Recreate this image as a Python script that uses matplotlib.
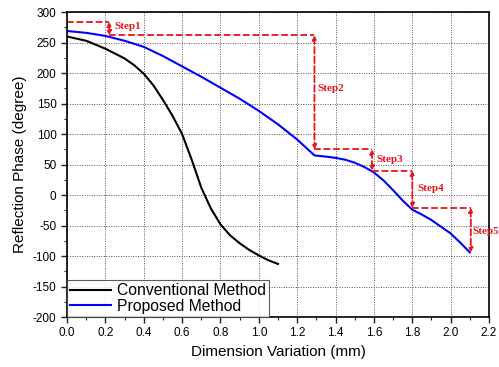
import numpy as np
import matplotlib.pyplot as plt
from matplotlib.ticker import MultipleLocator

# data
conv_x = [0.0, 0.1, 0.2, 0.25, 0.3, 0.35, 0.4, 0.45, 0.5, 0.55, 0.6, 0.65, 0.7, 0.75, 0.8, 0.85, 0.9, 0.95, 1.0, 1.05, 1.1]
conv_y = [260, 253, 240, 232, 224, 213, 199, 180, 156, 130, 100, 58, 12, -22, -48, -66, -79, -90, -99, -107, -113]

prop_x = [0.0, 0.1, 0.2, 0.3, 0.4, 0.5, 0.6, 0.7, 0.8, 0.9, 1.0, 1.1, 1.2, 1.29,
          1.35, 1.4, 1.45, 1.5, 1.55, 1.6, 1.65, 1.7, 1.75, 1.8, 1.85, 1.9, 1.95, 2.0, 2.05, 2.1]
prop_y = [269, 266, 261, 253, 243, 228, 211, 194, 176, 158, 138, 116, 91, 65,
          63, 61, 58, 53, 46, 37, 24, 8, -9, -24, -32, -41, -52, -63, -78, -94]

# step annotations
step_names = ['Step1', 'Step2', 'Step3', 'Step4', 'Step5']
step_x = [0.22, 1.29, 1.59, 1.80, 2.105]
step_top = [284, 262, 75, 40, -21]
step_bot = [262, 75, 40, -21, -94]
step_lbl_x = [0.245, 1.305, 1.615, 1.825, 2.113]
step_lbl_y = [276, 175, 59, 10, -59]

plt.rcParams['font.family'] = ['Liberation Sans', 'DejaVu Sans']

fig = plt.figure(figsize=(4.99, 3.67), dpi=100)
ax = fig.add_axes([0.1343, 0.1362, 0.8457, 0.8308])

ax.grid(True, color='#555555', linestyle=(0, (1, 1.5)), linewidth=0.7)
ax.set_axisbelow(True)

ax.plot(conv_x, conv_y, color='black', linewidth=1.5, label='Conventional Method')
ax.plot(prop_x, prop_y, color='#0000ff', linewidth=1.5, label='Proposed Method')

red = '#e8141c'
# horizontal dashed lines
ax.plot([0, step_x[0]], [step_top[0], step_top[0]], color=red, linestyle='--', linewidth=1.3)
for i in range(len(step_x) - 1):
    ax.plot([step_x[i], step_x[i + 1]], [step_bot[i], step_bot[i]], color=red, linestyle='--', linewidth=1.3)
# vertical double arrows
for i in range(len(step_x)):
    ax.annotate('', xy=(step_x[i], step_bot[i]), xytext=(step_x[i], step_top[i]),
                arrowprops=dict(arrowstyle='<|-|>', color=red, linestyle='--', linewidth=1.3,
                                mutation_scale=6, shrinkA=0, shrinkB=0))
    ax.text(step_lbl_x[i], step_lbl_y[i], step_names[i], color=red, fontsize=8, fontweight='bold',
            family='Liberation Serif', va='center', ha='left')

ax.set_xlim(0, 2.2)
ax.set_ylim(-200, 300)
ax.xaxis.set_major_locator(MultipleLocator(0.2))
ax.xaxis.set_minor_locator(MultipleLocator(0.1))
ax.yaxis.set_major_locator(MultipleLocator(50))
ax.yaxis.set_minor_locator(MultipleLocator(25))
ax.xaxis.set_major_formatter(plt.FuncFormatter(lambda v, p: f'{v:.1f}'))
ax.yaxis.set_major_formatter(plt.FuncFormatter(lambda v, p: f'{v:.0f}'))
ax.tick_params(which='both', direction='out', labelsize=8.5, color='#222222')
ax.tick_params(which='major', length=4, width=1)
ax.tick_params(which='minor', length=2.5, width=0.8)
for s in ax.spines.values():
    s.set_linewidth(1.2)

ax.set_xlabel('Dimension Variation (mm)', fontsize=11)
ax.set_ylabel('Reflection Phase (degree)', fontsize=11)

leg = ax.legend(loc='lower left', fontsize=11.3, borderaxespad=0, frameon=True, fancybox=False,
                handlelength=2.6, borderpad=0.2, labelspacing=0.05, handletextpad=0.4)
leg.get_frame().set_edgecolor('#333333')
leg.get_frame().set_linewidth(0.8)

fig.savefig('out.png', dpi=100)
